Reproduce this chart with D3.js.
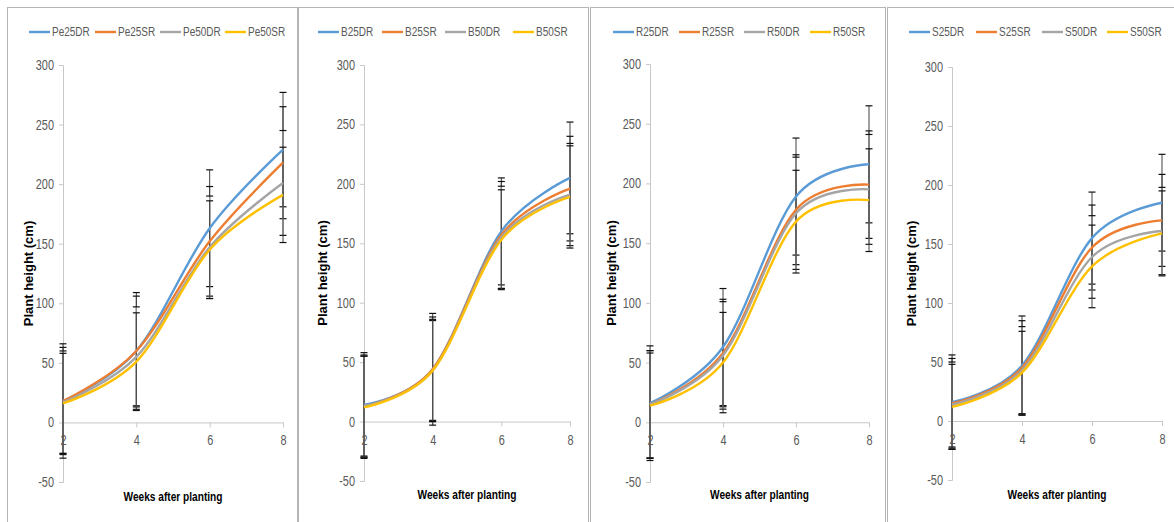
<!DOCTYPE html>
<html>
<head>
<meta charset="utf-8">
<script src="https://cdn.jsdelivr.net/npm/d3@7"></script>
<style>
  body { margin: 0; background: #fff; }
  svg { display: block; }
</style>
</head>
<body>
<svg id="chart" width="1174" height="522"></svg>
<script>
// weeks after planting and y ticks
const weeks = [2, 4, 6, 8];
const yTicks = [-50, 0, 50, 100, 150, 200, 250, 300];
const seriesColors = ["#5b9bd5", "#ed7d31", "#a5a5a5", "#ffc000"];

// Pe
const peNames = ["Pe25DR", "Pe25SR", "Pe50DR", "Pe50SR"];
const peValues = [[18, 60, 163, 229], [18, 60, 152, 218], [17, 55, 147, 201], [16, 51, 145, 191]];
const peErrors = [[48, 49, 49, 48], [45, 46, 46, 47], [43, 42, 43, 44], [42, 41, 41, 40]];

// B
const bNames = ["B25DR", "B25SR", "B50DR", "B50SR"];
const bValues = [[14, 44, 160, 205], [13, 44, 157, 196], [13, 43, 155, 191], [12, 43, 153, 189]];
const bErrors = [[44, 47, 45, 47], [43, 44, 45, 44], [42, 42, 43, 43], [43, 43, 42, 43]];

// R
const rNames = ["R25DR", "R25SR", "R50DR", "R50SR"];
const rValues = [[16, 63, 189, 216], [15, 58, 178, 199], [15, 56, 175, 195], [14, 50, 168, 186]];
const rErrors = [[48, 49, 49, 49], [45, 45, 46, 45], [45, 45, 47, 46], [44, 42, 43, 43]];

// S
const sNames = ["S25DR", "S25SR", "S50DR", "S50SR"];
const sValues = [[16, 47, 155, 185], [15, 45, 147, 170], [14, 43, 139, 161], [12, 41, 131, 159]];
const sErrors = [[40, 42, 39, 41], [38, 40, 36, 39], [36, 37, 35, 37], [36, 35, 35, 36]];

// panel frames and plot areas (pixels)
const panels = [
  { names: peNames, values: peValues, errors: peErrors,
    box: [7.5, 297.5], xr: [63, 283], yr: [482, 65], legendX: [29, 95, 160, 225], ylabX: 28, xlabY: 501 },
  { names: bNames, values: bValues, errors: bErrors,
    box: [298.5, 588.5], xr: [364, 570], yr: [481, 65], legendX: [318, 382, 445, 513], ylabX: 322, xlabY: 499 },
  { names: rNames, values: rValues, errors: rErrors,
    box: [590.5, 885.5], xr: [650, 869], yr: [482, 64], legendX: [613, 679, 744, 810], ylabX: 611, xlabY: 499 },
  { names: sNames, values: sValues, errors: sErrors,
    box: [887.5, 1180], xr: [952, 1162], yr: [480, 67], legendX: [909, 976, 1042, 1107], ylabX: 911, xlabY: 499 }
];

const svg = d3.select("#chart");
const font = "'Liberation Sans', Arial, sans-serif";

// squeeze text horizontally, like a narrow (Calibri-ish) face
function condense(sel, k) {
  sel.each(function () {
    const w = this.getComputedTextLength();
    d3.select(this).attr("textLength", w * k).attr("lengthAdjust", "spacingAndGlyphs");
  });
}

panels.forEach(function (p) {
  const g = svg.append("g");

  // frame
  g.append("rect")
    .attr("x", p.box[0]).attr("y", 7.5)
    .attr("width", p.box[1] - p.box[0]).attr("height", 530)
    .attr("fill", "none").attr("stroke", "#b4b4b4");

  const x = d3.scaleLinear().domain([2, 8]).range(p.xr);
  const y = d3.scaleLinear().domain([-50, 300]).range(p.yr);

  // y axis
  const yAxis = g.append("g")
    .attr("transform", "translate(" + p.xr[0] + ",0)")
    .call(d3.axisLeft(y).tickValues(yTicks).tickSize(4).tickPadding(5).tickFormat(d => String(d)));
  yAxis.select(".domain").attr("stroke", "#c8c8c8");
  yAxis.selectAll(".tick line").attr("stroke", "#c8c8c8");
  yAxis.selectAll("text").attr("fill", "#595959").style("font-size", "14px").style("font-family", font)
    .call(condense, 0.78);

  // x axis on zero line
  const xAxis = g.append("g")
    .attr("transform", "translate(0," + y(0) + ")")
    .call(d3.axisBottom(x).tickValues(weeks).tickSize(5).tickSizeOuter(0).tickPadding(8).tickFormat(d => String(d)));
  xAxis.select(".domain").attr("stroke", "#c8c8c8");
  xAxis.selectAll(".tick line").attr("stroke", "#c8c8c8");
  xAxis.selectAll("text").attr("fill", "#595959").style("font-size", "14px").style("font-family", font)
    .call(condense, 0.78);

  // error bars
  p.values.forEach(function (vals, si) {
    const eb = g.append("g");
    weeks.forEach(function (w, i) {
      const top = y(vals[i] + p.errors[si][i]);
      const bot = y(vals[i] - p.errors[si][i]);
      eb.append("line")
        .attr("x1", x(w)).attr("x2", x(w)).attr("y1", top).attr("y2", bot)
        .attr("stroke", si === 2 ? "#9a9a9a" : "#404040").attr("stroke-width", 1);
      [top, bot].forEach(function (cy) {
        eb.append("line")
          .attr("x1", x(w) - 3.5).attr("x2", x(w) + 3.5).attr("y1", cy).attr("y2", cy)
          .attr("stroke", "#111").attr("stroke-width", 1.2);
      });
    });
  });

  // smoothed lines
  const line = d3.line()
    .x(function (d, i) { return x(weeks[i]); })
    .y(function (d) { return y(d); })
    .curve(d3.curveCardinal.tension(0));

  p.values.forEach(function (vals, si) {
    g.append("path")
      .attr("d", line(vals))
      .attr("fill", "none")
      .attr("stroke", seriesColors[si])
      .attr("stroke-width", 2.4);
  });

  // legend
  p.names.forEach(function (name, si) {
    const lx = p.legendX[si];
    g.append("line")
      .attr("x1", lx).attr("x2", lx + 21).attr("y1", 32).attr("y2", 32)
      .attr("stroke", seriesColors[si]).attr("stroke-width", 2.4);
    g.append("text")
      .attr("x", lx + 23).attr("y", 32).attr("dy", "0.35em")
      .attr("fill", "#595959")
      .style("font-size", "12.5px").style("font-family", font)
      .text(name)
      .call(condense, 0.8);
  });

  // axis titles
  g.append("text")
    .attr("transform", "translate(" + p.ylabX + "," + ((p.yr[0] + p.yr[1]) / 2) + ") rotate(-90)")
    .attr("text-anchor", "middle").attr("dy", "0.35em")
    .style("font-size", "13px").style("font-weight", "bold")
    .style("font-family", font)
    .text("Plant height (cm)");

  g.append("text")
    .attr("x", (p.xr[0] + p.xr[1]) / 2).attr("y", p.xlabY)
    .attr("text-anchor", "middle")
    .style("font-size", "13px").style("font-weight", "bold")
    .style("font-family", font)
    .text("Weeks after planting")
    .call(condense, 0.78);
});
</script>
</body>
</html>
